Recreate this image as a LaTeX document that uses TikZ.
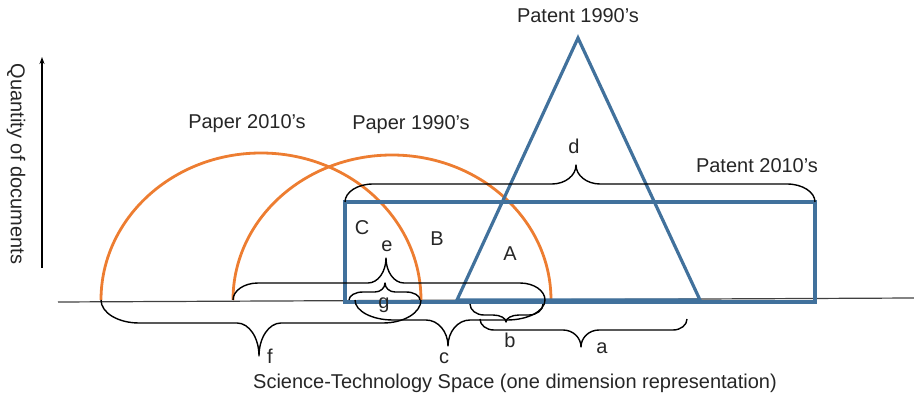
\documentclass[tikz,border=0pt]{standalone}
\usepackage{fontspec}
\setmainfont{Liberation Sans}
\usetikzlibrary{arrows.meta}
\definecolor{orng}{HTML}{ED7D31}
\definecolor{blu}{HTML}{41719C}
\definecolor{axgray}{HTML}{404040}
\definecolor{txt}{HTML}{262626}
% x1 x2 xm y0 yl yt re rt
\newcommand{\mybrace}[8]{%
 \draw[bracestyle] (#1,#4) .. controls (#1,{#4+0.5523*(#5-#4)}) and ({#1+#7-0.5523*#7},#5) .. ({#1+#7},#5)
  -- ({#3-#8},#5) .. controls ({#3-#8+0.5523*#8},#5) and (#3,{#6-0.5523*(#6-#5)}) .. (#3,#6)
  .. controls (#3,{#6-0.5523*(#6-#5)}) and ({#3+#8-0.5523*#8},#5) .. ({#3+#8},#5)
  -- ({#2-#7},#5) .. controls ({#2-#7+0.5523*#7},#5) and (#2,{#4+0.5523*(#5-#4)}) .. (#2,#4);}
% half ellipse: cx rx ry base
\newcommand{\halfell}[4]{%
 \draw[paper] ({#1-#2},#4) .. controls ({#1-#2},{#4-0.5523*#3}) and ({#1-0.5523*#2},{#4-#3}) .. (#1,{#4-#3})
  .. controls ({#1+0.5523*#2},{#4-#3}) and ({#1+#2},{#4-0.5523*#3}) .. ({#1+#2},#4);}
\tikzset{
 bracestyle/.style={black, line width=1.4pt, line join=round},
 paper/.style={orng, line width=2.8pt},
 patent/.style={blu, line width=3.2pt, line join=miter},
 lbl/.style={text=txt, font=\fontsize{20}{24}\selectfont, inner sep=0pt},
}
\begin{document}
\begin{tikzpicture}[x=1pt,y=-1pt]
\useasboundingbox (0,0) rectangle (914,398);
% baseline and axis
\coordinate (bl0) at (58,302);
\coordinate (bl1) at (914,298);
\draw[axgray, line width=1.2pt] (bl0) -- (bl1);
\coordinate (ax0) at (42,268);
\coordinate (ax1) at (42,57);
\draw[black, line width=1.2pt, -{Stealth[length=7pt,width=5pt]}] (ax0) -- (ax1);
% papers
\halfell{261}{160}{147}{300}
\halfell{392}{159}{145}{300}
% patents
\draw[patent] (345,202) rectangle (815,302);
\draw[patent] (457,300) -- (578,38) -- (700,300) -- cycle;
% braces
\mybrace{345}{815}{576}{202}{184}{165}{28}{24}
\mybrace{233}{545}{386}{300}{283}{258}{25}{18}
\mybrace{349}{420}{385}{300}{292}{283}{14}{10}
\mybrace{101}{421}{259}{300}{323}{356}{38}{22}
\mybrace{355}{545}{448}{300}{320}{346}{38}{22}
\mybrace{470}{543}{506}{304}{315}{322}{14}{13}
\mybrace{480}{687}{581}{319}{330}{347}{14}{18}
% labels
\node[lbl] (tp90) at (578,16) {Patent 1990’s};
\node[lbl] (tpa10) at (247,124) {Paper 2010’s};
\node[lbl] (tpa90) at (411,125) {Paper 1990’s};
\node[lbl] (tp10) at (757,166) {Patent 2010’s};
\node[lbl] (ld) at (574,146) {d};
\node[lbl] (lC) at (362,228) {C};
\node[lbl] (lB) at (437,239) {B};
\node[lbl] (le) at (387,246) {e};
\node[lbl] (lA) at (510,254) {A};
\node[lbl] (lg) at (384,305) {g};
\node[lbl] (lf) at (270,356) {f};
\node[lbl] (lc) at (444,358) {c};
\node[lbl] (lb) at (510,340) {b};
\node[lbl] (la) at (602,348) {a};
\node[lbl] (xlab) at (515,383) {Science-Technology Space (one dimension representation)};
\node[lbl, rotate=-90] (ylab) at (16,164) {Quantity of documents};
\end{tikzpicture}
\end{document}
